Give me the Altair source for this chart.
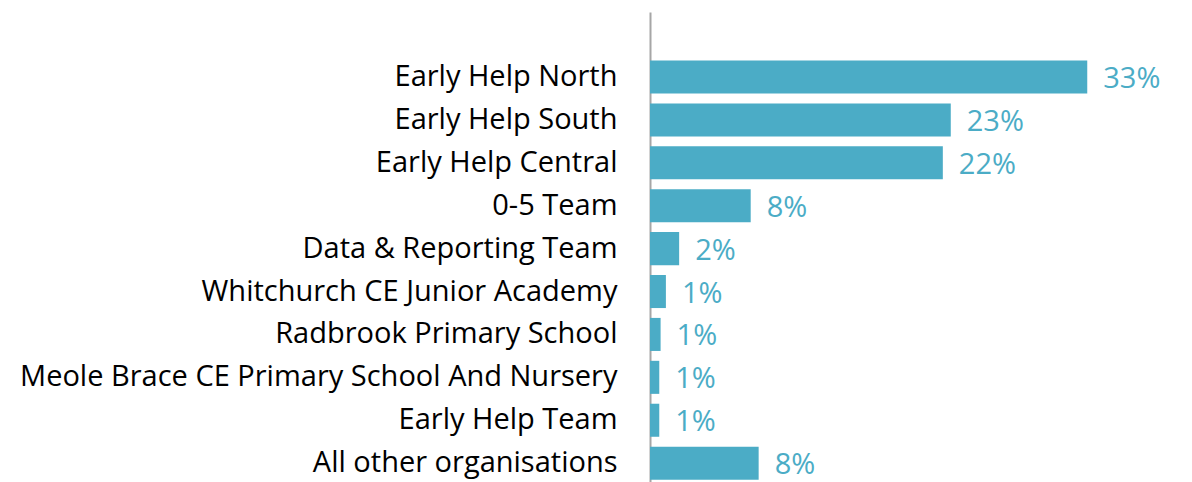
import altair as alt
import pandas as pd

names = [
    "Early Help North",
    "Early Help South",
    "Early Help Central",
    "0-5 Team",
    "Data & Reporting Team",
    "Whitchurch CE Junior Academy",
    "Radbrook Primary School",
    "Meole Brace CE Primary School And Nursery",
    "Early Help Team",
    "All other organisations",
]
values = [33.0, 22.7, 22.1, 7.6, 2.2, 1.2, 0.8, 0.7, 0.7, 8.2]
labels = ["33%", "23%", "22%", "8%", "2%", "1%", "1%", "1%", "1%", "8%"]

df = pd.DataFrame({"name": names, "value": values, "label": labels})

FONT = "Open Sans"
COLOR = "#4BACC6"

base = alt.Chart(df).encode(
    y=alt.Y(
        "name:N",
        sort=names,
        scale=alt.Scale(paddingInner=0.23, paddingOuter=1, align=0.565),
        axis=alt.Axis(
            title=None,
            ticks=False,
            grid=False,
            labelPadding=33,
            labelFontSize=29,
            labelFont=FONT,
            labelColor="#000000",
            labelLimit=0,
            domainColor="#A6A6A6",
            domainWidth=2,
        ),
    )
)

bars = base.mark_bar(color=COLOR).encode(
    x=alt.X("value:Q", scale=alt.Scale(domain=[0, 40], nice=False), axis=None)
)

text = base.mark_text(
    align="left", baseline="middle", dx=16, dy=2, font=FONT, fontSize=29, color=COLOR
).encode(x="value:Q", text="label:N")

chart = (
    alt.layer(bars, text)
    .properties(
        width=530,
        height=505,
        autosize=alt.AutoSizeParams(type="none"),
        padding={"left": 642, "top": 4, "right": 0, "bottom": 0},
    )
    .configure_view(stroke=None)
)

chart.save("out.html", embed_options={"renderer": "svg", "actions": False})
